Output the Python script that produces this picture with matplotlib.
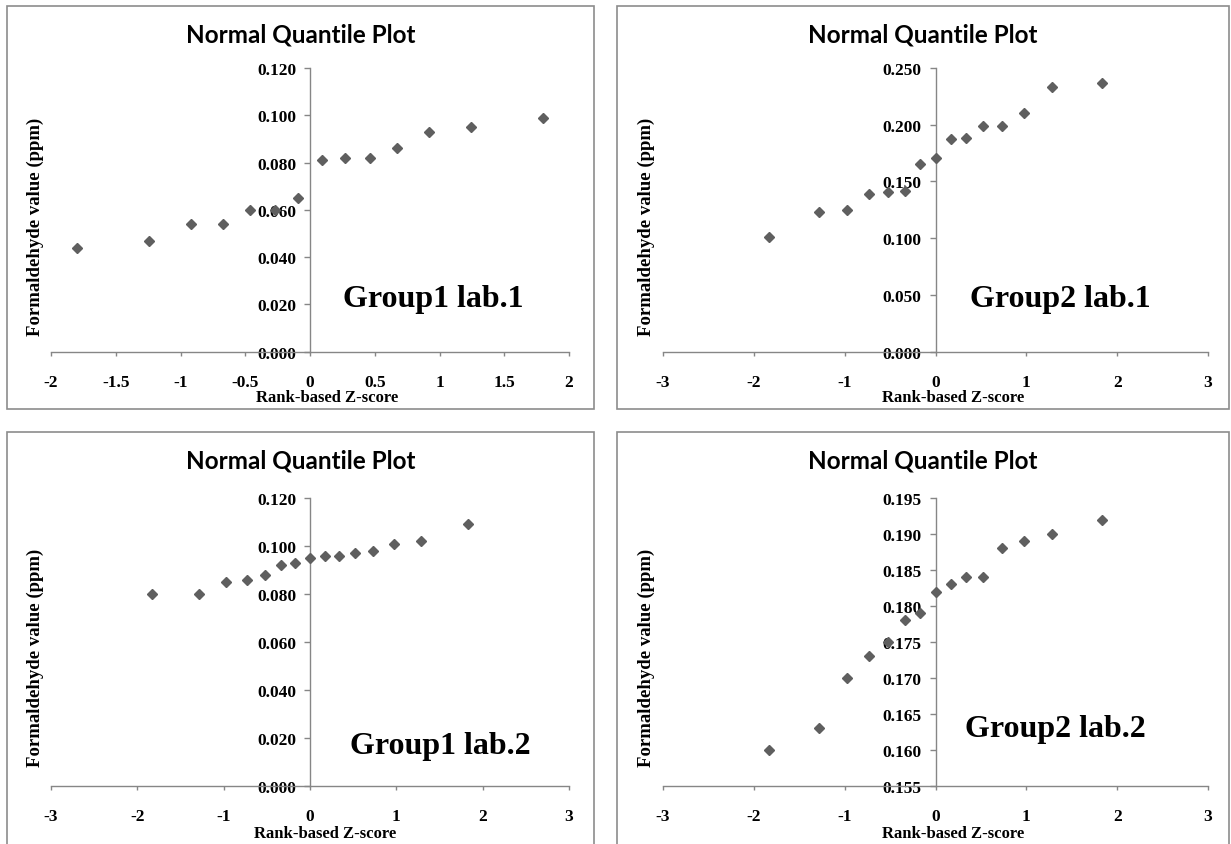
import matplotlib
matplotlib.use('Agg')
import matplotlib.pyplot as plt
from matplotlib.patches import Rectangle

plt.rcParams['axes.unicode_minus'] = False
plt.rcParams['font.family'] = 'Liberation Serif'

# rank-based z-scores
z_14 = [-1.80, -1.24, -0.92, -0.67, -0.46, -0.27, -0.09,
        0.09, 0.27, 0.46, 0.67, 0.92, 1.24, 1.80]
z_15 = [-1.83, -1.28, -0.97, -0.73, -0.52, -0.34, -0.17, 0.0,
        0.17, 0.34, 0.52, 0.73, 0.97, 1.28, 1.83]

# formaldehyde values (ppm)
g1_lab1 = [0.044, 0.047, 0.054, 0.054, 0.060, 0.060, 0.065,
           0.081, 0.082, 0.082, 0.086, 0.093, 0.095, 0.099]
g2_lab1 = [0.101, 0.123, 0.125, 0.139, 0.141, 0.142, 0.165, 0.171,
           0.187, 0.188, 0.199, 0.199, 0.210, 0.233, 0.237]
g1_lab2 = [0.080, 0.080, 0.085, 0.086, 0.088, 0.092, 0.093, 0.095,
           0.096, 0.096, 0.097, 0.098, 0.101, 0.102, 0.109]
g2_lab2 = [0.160, 0.163, 0.170, 0.173, 0.175, 0.178, 0.179, 0.182,
           0.183, 0.184, 0.184, 0.188, 0.189, 0.190, 0.192]

xticks_half = [-2, -1.5, -1, -0.5, 0, 0.5, 1, 1.5, 2]
xticks_int = [-3, -2, -1, 0, 1, 2, 3]
yticks_a = [0.000, 0.020, 0.040, 0.060, 0.080, 0.100, 0.120]
yticks_b = [0.000, 0.050, 0.100, 0.150, 0.200, 0.250]
yticks_c = [0.155, 0.160, 0.165, 0.170, 0.175, 0.180, 0.185, 0.190, 0.195]

title = 'Normal Quantile Plot'
xlabel = 'Rank-based Z-score'
ylabel = 'Formaldehyde value (ppm)'

W, H = 1231, 845
fig = plt.figure(figsize=(W / 100, H / 100), dpi=100)


def fx(px):
    return px / W


def fy(py):
    return 1 - py / H


# frame: pixel box of the chart border, axes: pixel box of the plot area
panels = [
    dict(frame=(7, 7, 594, 410), axes=(51, 69, 569, 352.7),
         x=z_14, y=g1_lab1, xticks=xticks_half, yticks=yticks_a,
         name='Group1 lab.1', name_xy=(433, 300), xl_xy=(327, 398), yl_xy=(35, 227)),
    dict(frame=(617, 7, 1229, 410), axes=(663, 69, 1208, 352.7),
         x=z_15, y=g2_lab1, xticks=xticks_int, yticks=yticks_b,
         name='Group2 lab.1', name_xy=(1060, 300), xl_xy=(953, 398), yl_xy=(646, 227)),
    dict(frame=(7, 433, 594, 852), axes=(51, 499, 569, 786.7),
         x=z_15, y=g1_lab2, xticks=xticks_int, yticks=yticks_a,
         name='Group1 lab.2', name_xy=(440, 747), xl_xy=(325, 834), yl_xy=(35, 658)),
    dict(frame=(617, 433, 1229, 852), axes=(663, 499, 1208, 786.7),
         x=z_15, y=g2_lab2, xticks=xticks_int, yticks=yticks_c,
         name='Group2 lab.2', name_xy=(1055, 730), xl_xy=(953, 834), yl_xy=(646, 658)),
]

grey = '#868686'

for p in panels:
    x0, y0, x1, y1 = p['frame']
    fig.add_artist(Rectangle((fx(x0), fy(y1)), fx(x1) - fx(x0), fy(y0) - fy(y1),
                             transform=fig.transFigure, fill=False,
                             edgecolor='#8c8c8c', linewidth=1.2))

    a0, b0, a1, b1 = p['axes']
    ax = fig.add_axes([fx(a0), fy(b1), fx(a1) - fx(a0), fy(b0) - fy(b1)])
    ax.set_facecolor('none')
    ax.plot(p['x'], p['y'], linestyle='none', marker='D', markersize=5.6,
            color='#5f5f5f', zorder=3, clip_on=False)

    ax.set_xlim(p['xticks'][0], p['xticks'][-1])
    ax.set_ylim(p['yticks'][0], p['yticks'][-1])
    ax.set_xticks(p['xticks'])
    ax.set_xticklabels([f'{t:g}' for t in p['xticks']])
    ax.set_yticks(p['yticks'])
    ax.set_yticklabels([f'{t:.3f}' for t in p['yticks']])

    for s in ['top', 'right']:
        ax.spines[s].set_visible(False)
    ax.spines['left'].set_position(('data', 0))
    for s in ['left', 'bottom']:
        ax.spines[s].set_color(grey)
        ax.spines[s].set_linewidth(1.0)

    ax.tick_params(axis='x', direction='out', length=3, width=1, color=grey,
                   pad=13, labelsize=12.5)
    ax.tick_params(axis='y', direction='out', length=4, width=1, color=grey,
                   pad=6, labelsize=12.5)
    for lab in ax.get_xticklabels() + ax.get_yticklabels():
        lab.set_fontweight('bold')

    fx0 = (x0 + x1) / 2
    fig.text(fx(fx0), fy(y0 + 28), title, family='Lato', fontweight='bold',
             fontsize=17.5, ha='center', va='center')
    fig.text(fx(p['xl_xy'][0]), fy(p['xl_xy'][1]), xlabel, fontweight='bold',
             fontsize=12, ha='center', va='center')
    fig.text(fx(p['yl_xy'][0]), fy(p['yl_xy'][1]), ylabel, fontweight='bold',
             fontsize=13.5, rotation=90, ha='center', va='center')
    fig.text(fx(p['name_xy'][0]), fy(p['name_xy'][1]), p['name'], fontweight='bold',
             fontsize=23, ha='center', va='center')

fig.savefig('out.png', dpi=100)
